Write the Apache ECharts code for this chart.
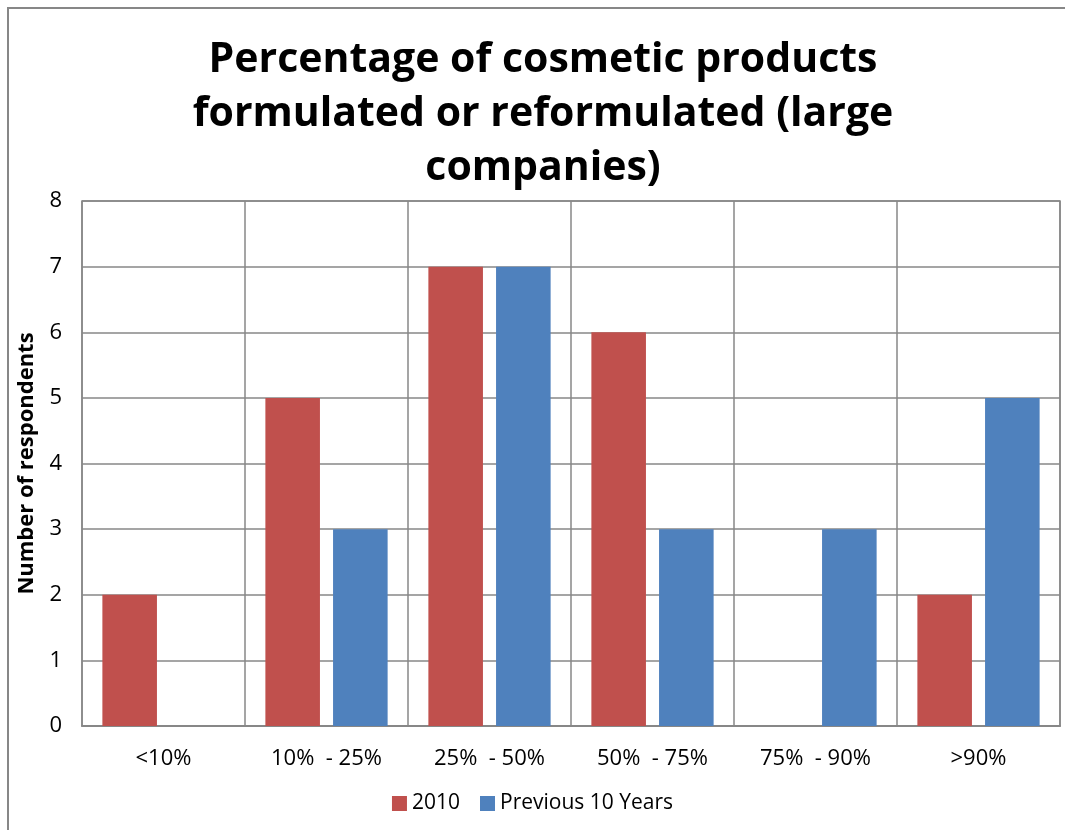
<!DOCTYPE html>
<html>
<head>
<meta charset="utf-8">
<script src="https://cdn.jsdelivr.net/npm/echarts@6/dist/echarts.min.js"></script>
<style>
  html, body { margin: 0; padding: 0; background: #fff; }
  #chart { width: 1065px; height: 830px; }
</style>
</head>
<body>
<div id="chart"></div>
<script>
// Share of products formulated or reformulated, by respondent count
const categories = ['<10%', '10%  - 25%', '25%  - 50%', '50%  - 75%', '75%  - 90%', '>90%'];
const values2010 = [2, 5, 7, 6, 0, 2];
const valuesPrevious10 = [0, 3, 7, 3, 3, 5];
const seriesNames = ['2010', 'Previous 10 Years'];
const yTicks = [0, 1, 2, 3, 4, 5, 6, 7, 8];

const FONT = "'Open Sans', 'Noto Sans', sans-serif";
const GRID_GREY = '#878787';

const chart = echarts.init(document.getElementById('chart'), null, { renderer: 'canvas' });

chart.setOption({
  backgroundColor: '#ffffff',
  animation: false,
  title: {
    text: 'Percentage of cosmetic products\nformulated or reformulated (large\ncompanies)',
    left: 538,
    textAlign: 'center',
    top: 28,
    textStyle: {
      fontFamily: FONT,
      fontWeight: 'bold',
      fontSize: 41,
      lineHeight: 54,
      color: '#000'
    }
  },
  graphic: [{
    type: 'rect',
    shape: { x: 8, y: 8, width: 1070, height: 840 },
    style: { fill: 'none', stroke: GRID_GREY, lineWidth: 2 },
    silent: true,
    z: -1
  }],
  legend: {
    data: seriesNames,
    bottom: 11,
    left: 'center',
    itemWidth: 15,
    itemHeight: 15,
    itemGap: 20,
    icon: 'rect',
    textStyle: { fontFamily: FONT, fontSize: 21, color: '#000' }
  },
  grid: {
    left: 82,
    right: 5,
    top: 201,
    bottom: 104,
    show: true,
    borderColor: GRID_GREY,
    borderWidth: 1.5
  },
  xAxis: {
    type: 'category',
    data: categories,
    axisLine: { show: true, lineStyle: { color: GRID_GREY, width: 2 } },
    axisTick: { show: false },
    splitLine: { show: true, lineStyle: { color: GRID_GREY, width: 1.5 } },
    axisLabel: {
      fontFamily: FONT,
      fontSize: 22,
      color: '#000',
      margin: 22
    }
  },
  yAxis: {
    type: 'value',
    min: yTicks[0],
    max: yTicks[yTicks.length - 1],
    interval: 1,
    name: 'Number of respondents',
    nameLocation: 'middle',
    nameGap: 44,
    nameRotate: 90,
    nameTextStyle: {
      fontFamily: FONT,
      fontWeight: 'bold',
      fontSize: 22,
      color: '#000'
    },
    axisLine: { show: false },
    axisTick: { show: false },
    splitLine: { show: true, lineStyle: { color: GRID_GREY, width: 1.5 } },
    axisLabel: {
      fontFamily: FONT,
      fontSize: 22,
      color: '#000',
      margin: 20
    }
  },
  series: [
    {
      name: seriesNames[0],
      type: 'bar',
      data: values2010,
      itemStyle: { color: '#C0504D' },
      barCategoryGap: '25%',
      barGap: '24%'
    },
    {
      name: seriesNames[1],
      type: 'bar',
      data: valuesPrevious10,
      itemStyle: { color: '#4F81BD' },
      barCategoryGap: '25%',
      barGap: '24%'
    }
  ]
});
</script>
</body>
</html>
